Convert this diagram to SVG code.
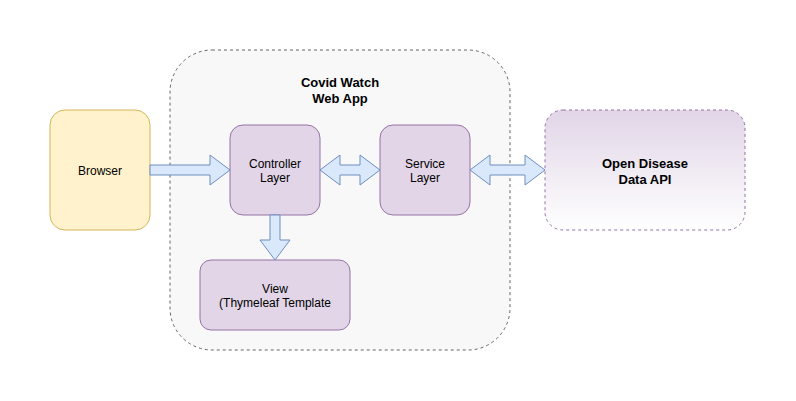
<svg xmlns="http://www.w3.org/2000/svg" width="796" height="401" viewBox="0 0 796 401">
<style>
text{font-family:"Liberation Sans",Arial,sans-serif;font-size:12px;fill:#000;text-anchor:middle}
.b{font-weight:bold;font-size:13px}
.p{fill:#e1d5e7;stroke:#9673a6;stroke-width:1}
.arr{fill:#dae8fc;stroke:#6c8ebf;stroke-width:1;stroke-linejoin:miter}
</style>
<defs>
<linearGradient id="g" x1="0" y1="0" x2="0" y2="1">
<stop offset="0" stop-color="#e1d5e7"/>
<stop offset="1" stop-color="#ffffff"/>
</linearGradient>
</defs>
<rect width="796" height="401" fill="#ffffff"/>
<g id="container">
<rect x="170" y="50" width="340" height="300" rx="42" fill="#f8f8f8" stroke="#666" stroke-dasharray="3 3"/>
<text class="b" x="340" y="87">Covid Watch</text>
<text class="b" x="340" y="103">Web App</text>
</g>
<g id="browser">
<rect x="50" y="110" width="100" height="120" rx="15" fill="#fff2cc" stroke="#d6b656"/>
<text x="100" y="175">Browser</text>
</g>
<g id="controller">
<rect class="p" x="230" y="125" width="90" height="90" rx="13"/>
<text x="275" y="168">Controller</text>
<text x="275" y="182">Layer</text>
</g>
<g id="service">
<rect class="p" x="380" y="125" width="90" height="90" rx="13"/>
<text x="425" y="168">Service</text>
<text x="425" y="182">Layer</text>
</g>
<g id="view">
<rect class="p" x="200" y="260" width="150" height="70" rx="11"/>
<text x="275" y="293">View</text>
<text x="275" y="307">(Thymeleaf Template</text>
</g>
<g id="api">
<rect x="545" y="110" width="200" height="120" rx="18" fill="url(#g)" stroke="#9673a6" stroke-dasharray="3 3"/>
<text class="b" x="645" y="168">Open Disease</text>
<text class="b" x="645" y="184">Data API</text>
</g>
<g id="connectors">
<path class="arr" d="M150,165 H210 V155 L230,170 L210,185 V175 H150 Z"/>
<path class="arr" d="M320,170 L340,155 V165 H360 V155 L380,170 L360,185 V175 H340 V185 Z"/>
<path class="arr" d="M470,170 L490,155 V165 H525 V155 L545,170 L525,185 V175 H490 V185 Z"/>
<path class="arr" d="M270,215 H280 V240 H290 L275,260 L260,240 H270 Z"/>
</g>
</svg>
